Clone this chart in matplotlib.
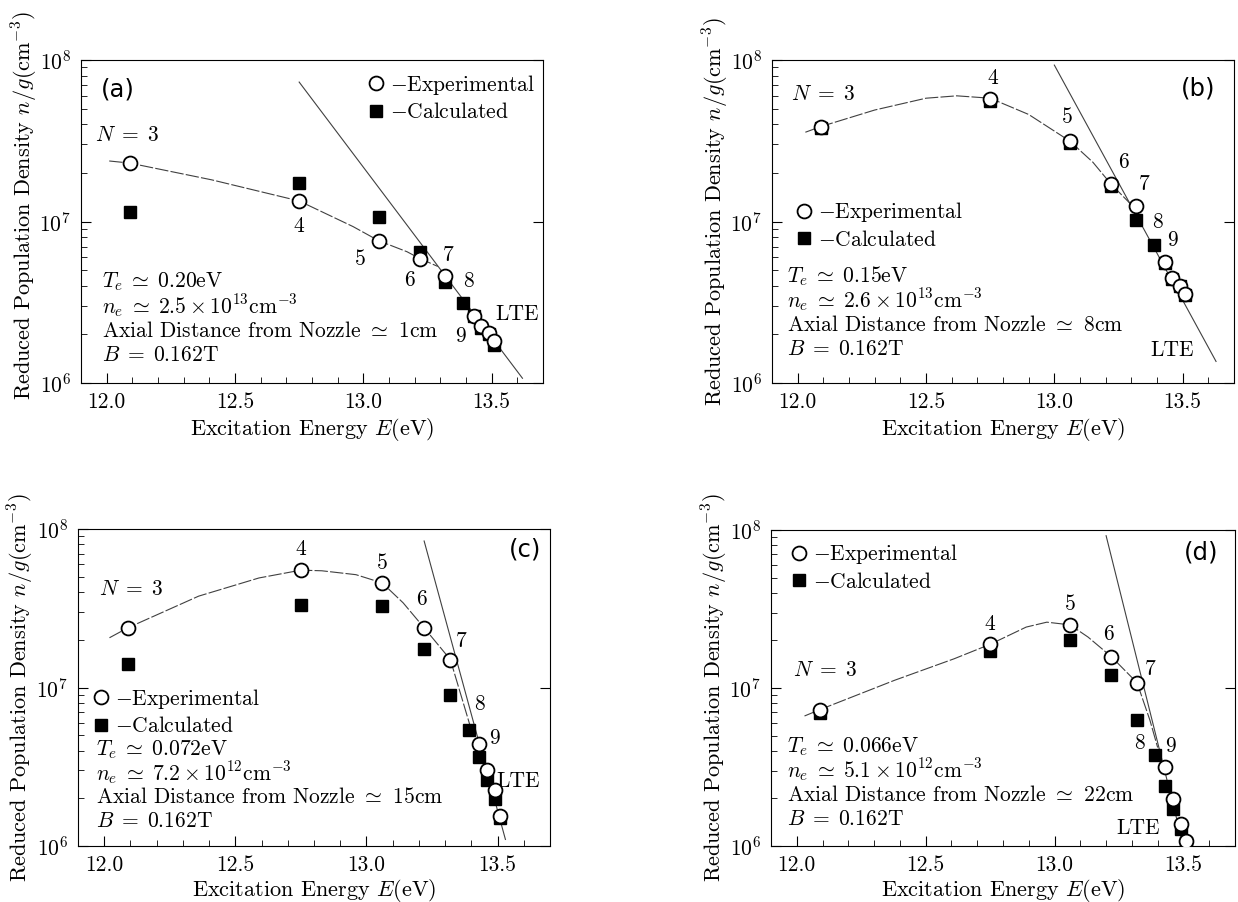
import numpy as np
import matplotlib
matplotlib.use('Agg')
import matplotlib.pyplot as plt
from matplotlib.lines import Line2D
from matplotlib.ticker import LogLocator, MultipleLocator, NullFormatter, FormatStrFormatter

plt.rcParams['font.family'] = 'serif'
plt.rcParams['font.serif'] = ['cmr10']
plt.rcParams['mathtext.fontset'] = 'cm'
plt.rcParams['axes.formatter.use_mathtext'] = True
plt.rcParams['axes.unicode_minus'] = False

# level energies (eV), N = 3..12
E_calc = [12.09, 12.75, 13.06, 13.22, 13.32, 13.39, 13.43, 13.46, 13.49, 13.51]
E_exp = [12.09, 12.75, 13.06, 13.22, 13.32, 13.43, 13.46, 13.49, 13.51]

# (a) 1cm
exp_a = [2.30e7, 1.34e7, 7.6e6, 5.9e6, 4.6e6, 2.6e6, 2.24e6, 2.04e6, 1.81e6]
calc_a = [1.14e7, 1.73e7, 1.06e7, 6.46e6, 4.25e6, 3.13e6, 2.6e6, 2.2e6, 2.0e6, 1.73e6]
fit_a_E = [12.01, 12.09, 12.41, 12.75, 12.96, 13.06, 13.17, 13.22, 13.29]
fit_a_n = [2.37e7, 2.30e7, 1.81e7, 1.34e7, 9.3e6, 7.6e6, 6.5e6, 5.9e6, 5.27e6]
lte_a_E = [12.75, 13.62]
lte_a_n = [7.3e7, 1.07e6]

# (b) 8cm
exp_b = [3.87e7, 5.74e7, 3.15e7, 1.71e7, 1.24e7, 5.6e6, 4.5e6, 4.0e6, 3.57e6]
calc_b = [3.8e7, 5.6e7, 3.05e7, 1.66e7, 1.02e7, 7.2e6, 5.5e6, 4.4e6, 4.0e6, 3.5e6]
fit_b_E = [12.03, 12.09, 12.3, 12.5, 12.62, 12.75, 12.9, 13.06, 13.15, 13.22, 13.30]
fit_b_n = [3.57e7, 3.87e7, 4.9e7, 5.8e7, 6.0e7, 5.8e7, 4.6e7, 3.15e7, 2.33e7, 1.71e7, 1.27e7]
lte_b_E = [13.00, 13.63]
lte_b_n = [9.3e7, 1.36e6]

# (c) 15cm
exp_c = [2.38e7, 5.54e7, 4.57e7, 2.38e7, 1.50e7, 4.4e6, 3.0e6, 2.24e6, 1.55e6]
calc_c = [1.41e7, 3.33e7, 3.26e7, 1.75e7, 9.0e6, 5.4e6, 3.64e6, 2.59e6, 1.97e6, 1.5e6]
fit_c_E = [12.02, 12.09, 12.36, 12.59, 12.75, 12.83, 12.96, 13.06, 13.14, 13.22, 13.32, 13.40]
fit_c_n = [2.06e7, 2.38e7, 3.77e7, 4.91e7, 5.5e7, 5.45e7, 5.15e7, 4.57e7, 3.42e7, 2.38e7, 1.50e7, 5.4e6]
lte_c_E = [13.22, 13.53]
lte_c_n = [8.4e7, 1.10e6]

# (d) 22cm
exp_d = [7.3e6, 1.89e7, 2.51e7, 1.58e7, 1.08e7, 3.17e6, 1.97e6, 1.38e6, 1.08e6]
calc_d = [6.9e6, 1.71e7, 2.02e7, 1.20e7, 6.3e6, 3.79e6, 2.39e6, 1.71e6, 1.29e6, 1.04e6]
fit_d_E = [12.03, 12.09, 12.38, 12.61, 12.75, 12.89, 12.97, 13.06, 13.13, 13.22, 13.32, 13.37, 13.40]
fit_d_n = [6.65e6, 7.3e6, 1.12e7, 1.53e7, 1.89e7, 2.43e7, 2.61e7, 2.51e7, 2.1e7, 1.58e7, 1.08e7, 6.25e6, 4.2e6]
lte_d_E = [13.20, 13.50]
lte_d_n = [9.2e7, 1.0e6]

params_a = [r'$T_e\;\simeq\;0.20$eV', r'$n_e\;\simeq\;2.5\times10^{13}$cm$^{-3}$',
            r'Axial Distance from Nozzle $\simeq$ 1cm', r'$B\;=\;0.162$T']
params_b = [r'$T_e\;\simeq\;0.15$eV', r'$n_e\;\simeq\;2.6\times10^{13}$cm$^{-3}$',
            r'Axial Distance from Nozzle $\simeq$ 8cm', r'$B\;=\;0.162$T']
params_c = [r'$T_e\;\simeq\;0.072$eV', r'$n_e\;\simeq\;7.2\times10^{12}$cm$^{-3}$',
            r'Axial Distance from Nozzle $\simeq$ 15cm', r'$B\;=\;0.162$T']
params_d = [r'$T_e\;\simeq\;0.066$eV', r'$n_e\;\simeq\;5.1\times10^{12}$cm$^{-3}$',
            r'Axial Distance from Nozzle $\simeq$ 22cm', r'$B\;=\;0.162$T']

FS = 15.5
fig = plt.figure(figsize=(12.38, 9.02), dpi=100)


def panel(rect, exp, calc, fitE, fitn, lteE, lten, tag, tagpos, params, parpos,
          legpos, levels, ylab_y=0.5, xpad=3):
    ax = fig.add_axes(rect)
    ax.plot(fitE, fitn, color='0.25', lw=0.8, dashes=(12, 2))
    ax.plot(lteE, lten, color='0.25', lw=0.8)
    ax.plot(E_calc, calc, 's', color='black', ms=9, zorder=3)
    ax.plot(E_exp, exp, 'o', mfc='white', mec='black', mew=1.3, ms=10, zorder=4)
    ax.set_yscale('log')
    ax.set_xlim(11.9, 13.7)
    ax.set_ylim(1e6, 1e8)
    ax.xaxis.set_major_locator(MultipleLocator(0.5))
    ax.xaxis.set_minor_locator(MultipleLocator(0.1))
    ax.xaxis.set_major_formatter(FormatStrFormatter('%.1f'))
    ax.yaxis.set_minor_locator(LogLocator(subs=np.arange(2, 10)))
    ax.yaxis.set_minor_formatter(NullFormatter())
    ax.tick_params(which='both', direction='in', labelsize=FS, right=True)
    ax.tick_params(which='major', length=7, pad=7)
    ax.tick_params(which='minor', length=4)
    ax.tick_params(axis='y', which='minor', right=False)
    ax.set_xlabel(r'Excitation Energy $E$(eV)', fontsize=FS + 0.5, labelpad=xpad)
    ax.set_ylabel(r'Reduced Population Density $n/g$(cm$^{-3}$)', fontsize=FS + 0.5)
    ax.yaxis.set_label_coords(-0.088, ylab_y)
    ax.text(tagpos[0], tagpos[1], tag, transform=ax.transAxes, fontsize=FS + 2,
            family='DejaVu Sans', ha='center', va='center')
    for i, s in enumerate(params):
        ax.text(parpos[0], parpos[1] - i * 0.076, s, transform=ax.transAxes,
                fontsize=FS, ha='left', va='center')
    h = [Line2D([], [], ls='', marker='o', mfc='white', mec='black', mew=1.3, ms=10),
         Line2D([], [], ls='', marker='s', color='black', ms=9)]
    ax.legend(h, [r'$-$Experimental', r'$-$Calculated'], loc='center left',
              bbox_to_anchor=legpos, frameon=False, fontsize=FS,
              handletextpad=0.15, handlelength=1.0, labelspacing=0.25,
              borderaxespad=0, borderpad=0)
    for s, x, y in levels:
        ax.text(x, y, s, fontsize=FS, ha='center', va='center')
    return ax


panel([81 / 1238, 1 - 383 / 902, 462 / 1238, 323 / 902], exp_a, calc_a,
      fit_a_E, fit_a_n, lte_a_E, lte_a_n, '(a)', (0.08, 0.91), params_a,
      (0.045, 0.313), (0.615, 0.884),
      [(r'$N\;=\;3$', 12.08, 3.4e7), ('4', 12.75, 9.3e6), ('5', 12.99, 5.8e6),
       ('6', 13.18, 4.35e6), ('7', 13.33, 6.2e6), ('8', 13.41, 4.25e6),
       ('9', 13.38, 1.95e6), ('LTE', 13.6, 2.65e6)], ylab_y=0.55)

panel([772 / 1238, 1 - 383 / 902, 462 / 1238, 323 / 902], exp_b, calc_b,
      fit_b_E, fit_b_n, lte_b_E, lte_b_n, '(b)', (0.922, 0.912), params_b,
      (0.032, 0.332), (0.045, 0.489),
      [(r'$N\;=\;3$', 12.1, 6.1e7), ('4', 12.76, 7.7e7), ('5', 13.05, 4.4e7),
       ('6', 13.27, 2.32e7), ('7', 13.35, 1.69e7), ('8', 13.40, 9.9e6),
       ('9', 13.46, 7.7e6), ('LTE', 13.46, 1.6e6)], ylab_y=0.53)

panel([78 / 1238, 1 - 846 / 902, 472 / 1238, 317 / 902], exp_c, calc_c,
      fit_c_E, fit_c_n, lte_c_E, lte_c_n, '(c)', (0.947, 0.935), params_c,
      (0.038, 0.305), (0.026, 0.424),
      [(r'$N\;=\;3$', 12.1, 4.15e7), ('4', 12.75, 7.4e7), ('5', 13.06, 6.1e7),
       ('6', 13.21, 3.6e7), ('7', 13.36, 1.96e7), ('8', 13.43, 7.8e6),
       ('9', 13.49, 4.8e6), ('LTE', 13.58, 2.57e6)], xpad=1)

panel([771 / 1238, 1 - 846 / 902, 464 / 1238, 316 / 902], exp_d, calc_d,
      fit_d_E, fit_d_n, lte_d_E, lte_d_n, '(d)', (0.927, 0.929), params_d,
      (0.035, 0.314), (0.037, 0.883),
      [(r'$N\;=\;3$', 12.11, 1.3e7), ('4', 12.75, 2.55e7), ('5', 13.06, 3.4e7),
       ('6', 13.21, 2.2e7), ('7', 13.37, 1.32e7), ('8', 13.33, 4.5e6),
       ('9', 13.45, 4.3e6), ('LTE', 13.325, 1.3e6)], xpad=1)

plt.savefig('out.png', dpi=100)
plt.close()
